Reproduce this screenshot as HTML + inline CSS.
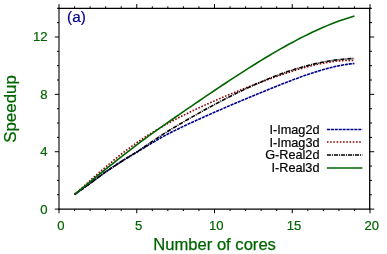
<!DOCTYPE html><html><head><meta charset="utf-8"><style>html,body{margin:0;padding:0;background:#fff}svg{display:block;will-change:transform}text{font-family:"Liberation Sans",sans-serif}</style></head><body>
<svg width="387" height="254" viewBox="0 0 387 254">
<rect width="387" height="254" fill="#fff"/>
<path d="M74.55,194.48 L78.44,191.77 L82.33,189.04 L86.21,186.26 L90.10,183.38 L93.99,180.44 L97.88,177.53 L101.76,174.68 L105.65,171.91 L109.54,169.22 L113.42,166.59 L117.31,164.01 L121.20,161.49 L125.09,159.06 L128.97,156.74 L132.86,154.48 L136.75,152.21 L140.64,149.88 L144.53,147.51 L148.41,145.15 L152.30,142.83 L156.19,140.54 L160.07,138.25 L163.96,136.04 L167.85,133.97 L171.74,132.03 L175.62,130.11 L179.51,128.22 L183.40,126.36 L187.29,124.53 L191.18,122.72 L195.06,120.93 L198.95,119.16 L202.84,117.40 L206.72,115.67 L210.61,113.95 L214.50,112.24 L218.39,110.55 L222.28,108.86 L226.16,107.19 L230.05,105.52 L233.94,103.87 L237.82,102.22 L241.71,100.58 L245.60,98.94 L249.49,97.32 L253.38,95.70 L257.26,94.08 L261.15,92.48 L265.04,90.89 L268.93,89.30 L272.81,87.73 L276.70,86.17 L280.59,84.63 L284.48,83.11 L288.36,81.60 L292.25,80.12 L296.14,78.67 L300.02,77.24 L303.91,75.86 L307.80,74.51 L311.69,73.20 L315.57,71.94 L319.46,70.74 L323.35,69.59 L327.24,68.52 L331.12,67.51 L335.01,66.59 L338.90,65.75 L342.79,65.01 L346.68,64.37 L350.56,63.85 L354.45,63.45" fill="none" stroke="#00008b" stroke-width="1.6" stroke-dasharray="3.1 0.82"/>
<path d="M74.55,194.48 L78.44,191.03 L82.33,187.61 L86.21,184.16 L90.10,180.64 L93.99,177.10 L97.88,173.65 L101.76,170.28 L105.65,167.00 L109.54,163.75 L113.42,160.52 L117.31,157.34 L121.20,154.25 L125.09,151.26 L128.97,148.34 L132.86,145.50 L136.75,142.74 L140.64,140.06 L144.53,137.45 L148.41,134.92 L152.30,132.50 L156.19,130.17 L160.07,127.90 L163.96,125.68 L167.85,123.52 L171.74,121.40 L175.62,119.34 L179.51,117.32 L183.40,115.35 L187.29,113.42 L191.18,111.52 L195.06,109.67 L198.95,107.84 L202.84,106.05 L206.72,104.29 L210.61,102.56 L214.50,100.86 L218.39,99.17 L222.28,97.52 L226.16,95.88 L230.05,94.27 L233.94,92.67 L237.82,91.10 L241.71,89.54 L245.60,88.00 L249.49,86.48 L253.38,84.98 L257.26,83.50 L261.15,82.04 L265.04,80.60 L268.93,79.18 L272.81,77.79 L276.70,76.42 L280.59,75.07 L284.48,73.76 L288.36,72.48 L292.25,71.24 L296.14,70.03 L300.02,68.87 L303.91,67.76 L307.80,66.69 L311.69,65.69 L315.57,64.75 L319.46,63.89 L323.35,63.10 L327.24,62.39 L331.12,61.78 L335.01,61.27 L338.90,60.88 L342.79,60.60 L346.68,60.45 L350.56,60.44 L354.45,60.59" fill="none" stroke="#8b0000" stroke-width="1.6" stroke-dasharray="1.6 1.63"/>
<path d="M74.55,194.48 L78.44,191.74 L82.33,189.00 L86.21,186.23 L90.10,183.40 L93.99,180.51 L97.88,177.61 L101.76,174.74 L105.65,171.96 L109.54,169.30 L113.42,166.75 L117.31,164.24 L121.20,161.75 L125.09,159.29 L128.97,156.86 L132.86,154.43 L136.75,151.96 L140.64,149.40 L144.53,146.77 L148.41,144.13 L152.30,141.51 L156.19,138.89 L160.07,136.26 L163.96,133.68 L167.85,131.24 L171.74,128.90 L175.62,126.58 L179.51,124.28 L183.40,122.00 L187.29,119.74 L191.18,117.50 L195.06,115.29 L198.95,113.09 L202.84,110.92 L206.72,108.78 L210.61,106.66 L214.50,104.56 L218.39,102.50 L222.28,100.46 L226.16,98.45 L230.05,96.47 L233.94,94.52 L237.82,92.60 L241.71,90.72 L245.60,88.88 L249.49,87.07 L253.38,85.29 L257.26,83.56 L261.15,81.87 L265.04,80.23 L268.93,78.62 L272.81,77.07 L276.70,75.56 L280.59,74.10 L284.48,72.70 L288.36,71.35 L292.25,70.05 L296.14,68.82 L300.02,67.65 L303.91,66.54 L307.80,65.49 L311.69,64.51 L315.57,63.60 L319.46,62.75 L323.35,61.98 L327.24,61.28 L331.12,60.65 L335.01,60.10 L338.90,59.62 L342.79,59.22 L346.68,58.90 L350.56,58.67 L354.45,58.51" fill="none" stroke="#000" stroke-width="1.6" stroke-dasharray="4.2 0.9 1 0.9"/>
<path d="M74.55,194.48 L78.44,191.35 L82.33,188.24 L86.21,185.10 L90.10,181.88 L93.99,178.63 L97.88,175.44 L101.76,172.29 L105.65,169.19 L109.54,166.10 L113.42,163.01 L117.31,159.93 L121.20,156.88 L125.09,153.85 L128.97,150.84 L132.86,147.85 L136.75,144.91 L140.64,141.98 L144.53,139.08 L148.41,136.22 L152.30,133.41 L156.19,130.65 L160.07,127.90 L163.96,125.16 L167.85,122.44 L171.74,119.72 L175.62,117.02 L179.51,114.32 L183.40,111.63 L187.29,108.95 L191.18,106.29 L195.06,103.63 L198.95,100.98 L202.84,98.34 L206.72,95.70 L210.61,93.08 L214.50,90.47 L218.39,87.88 L222.28,85.29 L226.16,82.72 L230.05,80.17 L233.94,77.62 L237.82,75.10 L241.71,72.60 L245.60,70.11 L249.49,67.65 L253.38,65.21 L257.26,62.79 L261.15,60.40 L265.04,58.03 L268.93,55.70 L272.81,53.40 L276.70,51.13 L280.59,48.90 L284.48,46.70 L288.36,44.54 L292.25,42.43 L296.14,40.36 L300.02,38.33 L303.91,36.35 L307.80,34.43 L311.69,32.55 L315.57,30.73 L319.46,28.97 L323.35,27.27 L327.24,25.62 L331.12,24.05 L335.01,22.53 L338.90,21.09 L342.79,19.72 L346.68,18.42 L350.56,17.20 L354.45,16.05" fill="none" stroke="#006400" stroke-width="1.6"/>
<path d="M59,7.700000000000001V209.75" stroke="#000" stroke-width="1.1" fill="none"/>
<path d="M369.7,7.700000000000001V209.75" stroke="#000" stroke-width="1.3" fill="none"/>
<path d="M58.45,8.3H370.35" stroke="#000" stroke-width="1.2" fill="none"/>
<path d="M58.45,209.1H370.35" stroke="#000" stroke-width="1.3" fill="none"/>
<path d="M59.00,209.1v4.2M59.00,8.3v-4.2M74.55,209.1v2.0M74.55,8.3v-2.0M90.10,209.1v2.0M90.10,8.3v-2.0M105.65,209.1v2.0M105.65,8.3v-2.0M121.20,209.1v2.0M121.20,8.3v-2.0M136.75,209.1v4.2M136.75,8.3v-4.2M152.30,209.1v2.0M152.30,8.3v-2.0M167.85,209.1v2.0M167.85,8.3v-2.0M183.40,209.1v2.0M183.40,8.3v-2.0M198.95,209.1v2.0M198.95,8.3v-2.0M214.50,209.1v4.2M214.50,8.3v-4.2M230.05,209.1v2.0M230.05,8.3v-2.0M245.60,209.1v2.0M245.60,8.3v-2.0M261.15,209.1v2.0M261.15,8.3v-2.0M276.70,209.1v2.0M276.70,8.3v-2.0M292.25,209.1v4.2M292.25,8.3v-4.2M307.80,209.1v2.0M307.80,8.3v-2.0M323.35,209.1v2.0M323.35,8.3v-2.0M338.90,209.1v2.0M338.90,8.3v-2.0M354.45,209.1v2.0M354.45,8.3v-2.0M370.00,209.1v4.2M370.00,8.3v-4.2M59.0,209.10h-4.2M370.0,209.10h4.2M59.0,194.76h-2.0M370.0,194.76h2.0M59.0,180.41h-2.0M370.0,180.41h2.0M59.0,166.07h-2.0M370.0,166.07h2.0M59.0,151.73h-4.2M370.0,151.73h4.2M59.0,137.39h-2.0M370.0,137.39h2.0M59.0,123.04h-2.0M370.0,123.04h2.0M59.0,108.70h-2.0M370.0,108.70h2.0M59.0,94.36h-4.2M370.0,94.36h4.2M59.0,80.01h-2.0M370.0,80.01h2.0M59.0,65.67h-2.0M370.0,65.67h2.0M59.0,51.33h-2.0M370.0,51.33h2.0M59.0,36.99h-4.2M370.0,36.99h4.2M59.0,22.64h-2.0M370.0,22.64h2.0M59.0,8.30h-2.0M370.0,8.30h2.0" stroke="#000" stroke-width="1" fill="none"/>
<text x="60.80" y="230.0" font-size="13.1" text-anchor="middle" fill="#006400" stroke="#006400" stroke-width="0.2">0</text>
<text x="138.55" y="230.0" font-size="13.1" text-anchor="middle" fill="#006400" stroke="#006400" stroke-width="0.2">5</text>
<text x="216.30" y="230.0" font-size="13.1" text-anchor="middle" fill="#006400" stroke="#006400" stroke-width="0.2">10</text>
<text x="294.05" y="230.0" font-size="13.1" text-anchor="middle" fill="#006400" stroke="#006400" stroke-width="0.2">15</text>
<text x="371.80" y="230.0" font-size="13.1" text-anchor="middle" fill="#006400" stroke="#006400" stroke-width="0.2">20</text>
<text x="47.6" y="213.60" font-size="13.1" text-anchor="end" fill="#006400" stroke="#006400" stroke-width="0.2">0</text>
<text x="47.6" y="156.23" font-size="13.1" text-anchor="end" fill="#006400" stroke="#006400" stroke-width="0.2">4</text>
<text x="47.6" y="98.86" font-size="13.1" text-anchor="end" fill="#006400" stroke="#006400" stroke-width="0.2">8</text>
<text x="47.6" y="41.49" font-size="13.1" text-anchor="end" fill="#006400" stroke="#006400" stroke-width="0.2">12</text>
<text x="214.6" y="249.9" font-size="16.6" text-anchor="middle" fill="#006400" stroke="#006400" stroke-width="0.25">Number of cores</text>
<text transform="translate(15.9,109) rotate(-90)" font-size="16.9" text-anchor="middle" fill="#006400" stroke="#006400" stroke-width="0.25">Speedup</text>
<text x="67.1" y="21.5" font-size="15.3" fill="#00008b" stroke="#00008b" stroke-width="0.2">(a)</text>
<text x="319.5" y="134.3" font-size="12.7" text-anchor="end" fill="#000" stroke="#000" stroke-width="0.2">I-Imag2d</text>
<path d="M326.9,129.4H362.4" stroke="#00008b" stroke-width="1.5" stroke-dasharray="3.1 0.82" fill="none"/>
<text x="319.5" y="146.9" font-size="12.7" text-anchor="end" fill="#000" stroke="#000" stroke-width="0.2">I-Imag3d</text>
<path d="M326.9,142.1H362.4" stroke="#8b0000" stroke-width="1.5" stroke-dasharray="1.6 1.63" fill="none"/>
<text x="319.5" y="158.8" font-size="12.7" text-anchor="end" fill="#000" stroke="#000" stroke-width="0.2">G-Real2d</text>
<path d="M326.9,155.0H362.4" stroke="#000" stroke-width="1.5" stroke-dasharray="4.2 0.9 1 0.9" fill="none"/>
<text x="319.5" y="172.2" font-size="12.7" text-anchor="end" fill="#000" stroke="#000" stroke-width="0.2">I-Real3d</text>
<path d="M326.9,168.0H362.4" stroke="#006400" stroke-width="1.5" fill="none"/>
</svg></body></html>
